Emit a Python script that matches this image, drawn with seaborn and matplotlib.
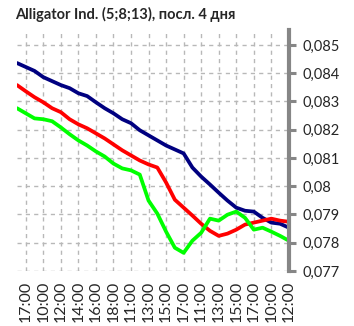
import matplotlib
matplotlib.use("Agg")
from matplotlib import pyplot as plt
from matplotlib.ticker import FuncFormatter
import numpy as np
import pandas as pd
import seaborn as sns

# hourly bars, one label every two bars
time_labels = ["17:00", "10:00", "12:00", "14:00", "16:00", "18:00", "11:00", "13:00",
               "15:00", "17:00", "11:00", "13:00", "15:00", "17:00", "10:00", "12:00"]

jaw = [0.08436, 0.08422, 0.08408, 0.08386, 0.08372, 0.08358, 0.08347, 0.08329,
       0.08319, 0.08297, 0.08276, 0.08258, 0.08237, 0.08223, 0.08198, 0.08180,
       0.08162, 0.08144, 0.08130, 0.08116, 0.08066, 0.08034, 0.08006, 0.07977,
       0.07949, 0.07924, 0.07913, 0.07910, 0.07888, 0.07871, 0.07867, 0.07853]

teeth = [0.08358, 0.08336, 0.08315, 0.08297, 0.08276, 0.08262, 0.08237, 0.08219,
         0.08205, 0.08187, 0.08169, 0.08148, 0.08127, 0.08109, 0.08091, 0.08077,
         0.08066, 0.08013, 0.07952, 0.07924, 0.07896, 0.07867, 0.07842, 0.07824,
         0.07832, 0.07846, 0.07864, 0.07871, 0.07878, 0.07885, 0.07878, 0.07874]

lips = [0.08276, 0.08258, 0.08240, 0.08237, 0.08230, 0.08208, 0.08184, 0.08162,
        0.08144, 0.08123, 0.08105, 0.08080, 0.08063, 0.08056, 0.08041, 0.07949,
        0.07903, 0.07839, 0.07782, 0.07764, 0.07807, 0.07835, 0.07885, 0.07878,
        0.07899, 0.07910, 0.07888, 0.07846, 0.07853, 0.07839, 0.07824, 0.07807]

y_ticks = [0.077, 0.078, 0.079, 0.080, 0.081, 0.082, 0.083, 0.084, 0.085]

df = pd.DataFrame({"bar": np.arange(len(jaw)), "jaw": jaw, "teeth": teeth, "lips": lips})
tick_pos = df["bar"].values[1::2]

sns.set_style("white")
plt.rcParams["font.family"] = ["Lato", "DejaVu Sans"]

fig = plt.figure(figsize=(3.54, 3.26), dpi=100)
ax = fig.add_axes([0.048, 0.169, 0.768, 0.739])

for col, color in [("jaw", "#000080"), ("teeth", "#ff0000"), ("lips", "#00ff00")]:
    sns.lineplot(data=df, x="bar", y=col, color=color, linewidth=2.7, ax=ax)

ax.set_xlim(0, len(jaw) - 1)
ax.set_ylim(0.077, 0.08553)
ax.set_xticks(tick_pos)
ax.set_xticklabels(time_labels, rotation=90, fontsize=11.5)
ax.set_yticks(y_ticks)
ax.yaxis.set_major_formatter(FuncFormatter(lambda v, p: f"{round(v, 3):g}".replace(".", ",")))
ax.yaxis.tick_right()
ax.tick_params(axis="y", labelsize=10.5, direction="out", length=5, width=2.2,
               color="#868686", pad=5, right=True, left=False)
ax.tick_params(axis="x", length=0, pad=7)
ax.set_xlabel("")
ax.set_ylabel("")

ax.grid(True, linestyle=(0, (3, 3)), color="#b8b8b8", linewidth=1.0)
for side in ["left", "top", "bottom"]:
    ax.spines[side].set_visible(False)
ax.spines["right"].set_color("#868686")
ax.spines["right"].set_linewidth(3)

fig.text(0.042, 0.957, "Alligator Ind. (5;8;13), посл. 4 дня", fontsize=10.5,
         fontweight="bold", va="center", ha="left")

fig.savefig("out.png", dpi=100)
